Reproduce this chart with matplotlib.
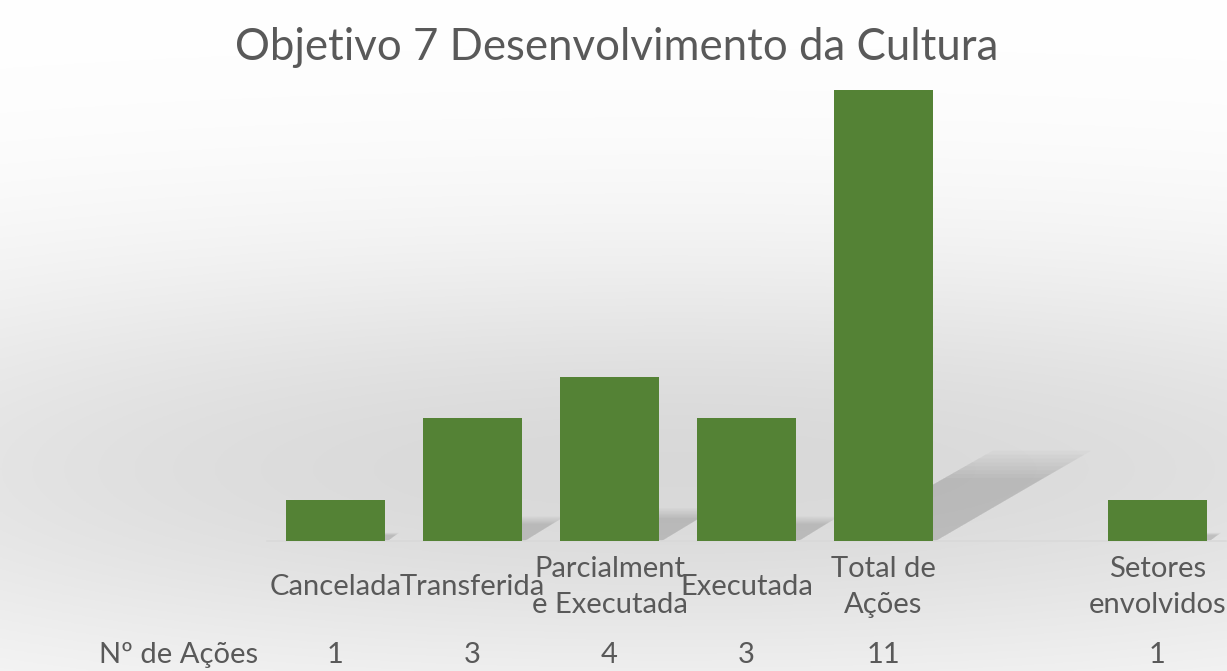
import matplotlib.pyplot as plt
import numpy as np
from matplotlib.transforms import blended_transform_factory

plt.rcParams['font.family'] = ['Lato', 'DejaVu Sans']

categories = ['Cancelada', 'Transferida', 'Parcialment\ne Executada', 'Executada',
              'Total de\nAções', '', 'Setores\nenvolvidos']
values = [1, 3, 4, 3, 11, None, 1]
table_label = 'Nº de Ações'
table_values = ['1', '3', '4', '3', '11', '', '1']

W, H = 1227, 671
fig = plt.figure(figsize=(W / 100, H / 100), dpi=100)

# grey gradient background
bg = fig.add_axes([0, 0, 1, 1], zorder=0)
yy = np.linspace(0, 1, 300)[:, None]
xx = np.linspace(0, 1, 400)[None, :]
dark = np.exp(-((yy - 0.7) / 0.33) ** 2) * (1 - 0.35 * ((xx - 0.55) / 0.6) ** 2)
img = 1 - 0.15 * dark
bg.imshow(np.dstack([img] * 3), aspect='auto', extent=[0, 1, 0, 1], origin='upper')
bg.axis('off')

ax = fig.add_axes([267 / W, 1 - 541 / H, (1226 - 267) / W, (541 - 90) / H], zorder=1)
ax.patch.set_alpha(0)

x = np.arange(len(categories))
bar_vals = [v if v is not None else 0 for v in values]
width = 0.72

# soft shadows behind bars
for xi, v in zip(x, bar_vals):
    if v == 0:
        continue
    for k in np.linspace(0.7, 1.0, 8):
        dx = 0.105 * v * k
        dy = 0.2 * v * k
        poly = [(xi - width / 2, 0), (xi + width / 2 + 0.02, 0),
                (xi + width / 2 + dx, dy), (xi - width / 2 + dx, dy)]
        ax.add_patch(plt.Polygon(poly, closed=True, color='#555555', alpha=0.03,
                                 lw=0, zorder=1))

ax.bar(x, bar_vals, width=width, color='#548235', zorder=3)

ax.set_xlim(-0.5, len(categories) - 0.5)
ax.set_ylim(0, 11)
for s in ['top', 'right', 'left']:
    ax.spines[s].set_visible(False)
ax.spines['bottom'].set_color('#d9d9d9')
ax.spines['bottom'].set_linewidth(1.2)
ax.set_yticks([])
ax.set_xticks([])

tr = blended_transform_factory(ax.transData, fig.transFigure)
for xi, lab in zip(x, categories):
    ax.text(xi, 1 - 587 / H, lab, transform=tr, ha='center', va='center',
            fontsize=21, color='#595959', linespacing=1.45)
for xi, t in zip(x, table_values):
    ax.text(xi, 1 - 655 / H, t, transform=tr, ha='center', va='center',
            fontsize=21, color='#595959')
fig.text(179 / W, 1 - 655 / H, table_label, ha='center', va='center',
         fontsize=21, color='#595959')

fig.text(617 / W, 1 - 48 / H, 'Objetivo 7 Desenvolvimento da Cultura', ha='center',
         va='center', fontsize=31.5, color='#595959')

fig.savefig('out.png', dpi=100)
